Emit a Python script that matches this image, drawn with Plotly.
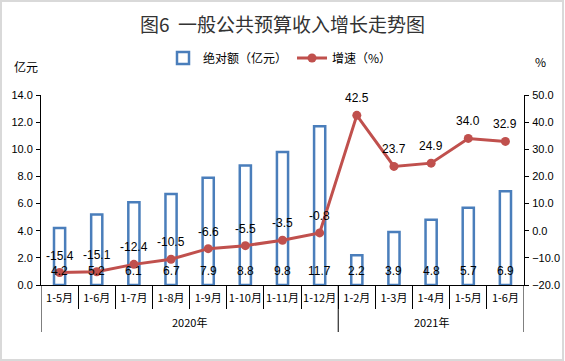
import plotly.graph_objects as go

year_groups = ["2020年", "2021年"]
year_counts = [8, 5]
months = ["1-5月", "1-6月", "1-7月", "1-8月", "1-9月", "1-10月", "1-11月", "1-12月",
          "1-2月", "1-3月", "1-4月", "1-5月", "1-6月"]
amount = [4.2, 5.2, 6.1, 6.7, 7.9, 8.8, 9.8, 11.7, 2.2, 3.9, 4.8, 5.7, 6.9]
growth = [-15.4, -15.1, -12.4, -10.5, -6.6, -5.5, -3.5, -0.8, 42.5, 23.7, 24.9, 34.0, 32.9]

FONT = "Noto Sans CJK SC"
NUMFONT = "Liberation Sans"
BLUE = "#4A7EBB"
RED = "#C0504D"

n = len(months)
xs = list(range(n))

# plot area in pixels
L, R, T, B = 41, 41, 95, 76
PW, PH = 565 - L - R, 361 - T - B

fig = go.Figure()
fig.add_trace(go.Bar(
    x=xs, y=amount, name="绝对额（亿元）", width=0.3,
    marker=dict(color="white", line=dict(color=BLUE, width=2.5)),
    yaxis="y",
))
fig.add_trace(go.Scatter(
    x=xs, y=growth, name="增速（%）", mode="lines+markers",
    line=dict(color=RED, width=3), marker=dict(color=RED, size=9),
    yaxis="y2",
))

annotations = []
for i, v in enumerate(amount):
    annotations.append(dict(x=i, y=0, xref="x", yref="y", text=f"{v:.1f}",
                            showarrow=False, yanchor="bottom", yshift=5,
                            font=dict(size=12, family=NUMFONT, color="black")))
for i, v in enumerate(growth):
    annotations.append(dict(x=i, y=v, xref="x", yref="y2", text=f"{v:.1f}",
                            showarrow=False, yanchor="bottom", yshift=8,
                            font=dict(size=12, family=NUMFONT, color="black")))

shapes = []
start = 0
bounds = [-0.5]
for g, c in zip(year_groups, year_counts):
    center = start + (c - 1) / 2
    annotations.append(dict(x=center, y=-(322 - 285) / PH, xref="x", yref="paper",
                            text=g, showarrow=False, yanchor="middle",
                            font=dict(size=11, family=FONT, color="black")))
    start += c
    bounds.append(start - 0.5)
for b in bounds:
    shapes.append(dict(type="line", xref="x", yref="paper", x0=b, x1=b,
                       y0=0, y1=-(332 - 285) / PH, line=dict(color="black", width=1)))

annotations += [
    dict(text="亿元", xref="paper", yref="paper", x=(26 - L) / PW, y=(285 - 66) / PH,
         showarrow=False, xanchor="center", yanchor="middle",
         font=dict(size=12, family=FONT, color="black")),
    dict(text="%", xref="paper", yref="paper", x=(540 - L) / PW,
         y=(285 - 61) / PH, showarrow=False, xanchor="center",
         yanchor="middle", font=dict(size=12, family=FONT, color="black")),
]
shapes.append(dict(type="rect", xref="paper", yref="paper",
                   x0=-(L - 1) / PW, x1=1 + (R - 2) / PW,
                   y0=-(B - 1) / PH, y1=1 + (T - 1) / PH,
                   line=dict(color="#D9D9D9", width=2), fillcolor="rgba(0,0,0,0)"))

fig.update_layout(
    width=565, height=361,
    margin=dict(l=L, r=R, t=T, b=B, autoexpand=False),
    paper_bgcolor="white", plot_bgcolor="white",
    font=dict(family=NUMFONT, size=11, color="black"),
    title=dict(text="图6  一般公共预算收入增长走势图", x=0.5, xanchor="center",
               y=1 - 25 / 361, yanchor="middle",
               font=dict(size=19, color="#333333", family=FONT)),
    showlegend=True,
    legend=dict(orientation="h", x=(280 - L) / PW, xanchor="center",
                y=(285 - 58) / PH, yanchor="middle",
                font=dict(size=12, family=FONT), bgcolor="rgba(0,0,0,0)",
                traceorder="normal"),
    xaxis=dict(
        range=[-0.5, n - 0.5], tickvals=xs, ticktext=months,
        showline=True, linecolor="black", linewidth=1, ticks="",
        tickfont=dict(size=11, family=FONT), showgrid=False, zeroline=False,
        ticklabelstandoff=3, tickangle=0,
        minor=dict(tickvals=[i + 0.5 for i in range(n - 1)], ticks="outside",
                   ticklen=23, tickcolor="black", showgrid=False),
    ),
    yaxis=dict(
        range=[0, 14], dtick=2, tickformat=".1f", showgrid=False,
        showline=True, linecolor="black", ticks="outside", ticklen=4,
        tickcolor="black", zeroline=False, tickfont=dict(size=11, family=NUMFONT),
        ticklabelstandoff=1,
    ),
    yaxis2=dict(
        range=[-20, 50], dtick=10, tickformat=".1f", overlaying="y", side="right",
        showgrid=False, showline=True, linecolor="black", ticks="outside",
        ticklen=4, tickcolor="black", zeroline=False,
        tickfont=dict(size=11, family=NUMFONT), ticklabelstandoff=1,
    ),
    annotations=annotations,
    shapes=shapes,
)

fig.write_html("out.html", config={"displayModeBar": False},
               post_script="document.body.style.margin='0';")
